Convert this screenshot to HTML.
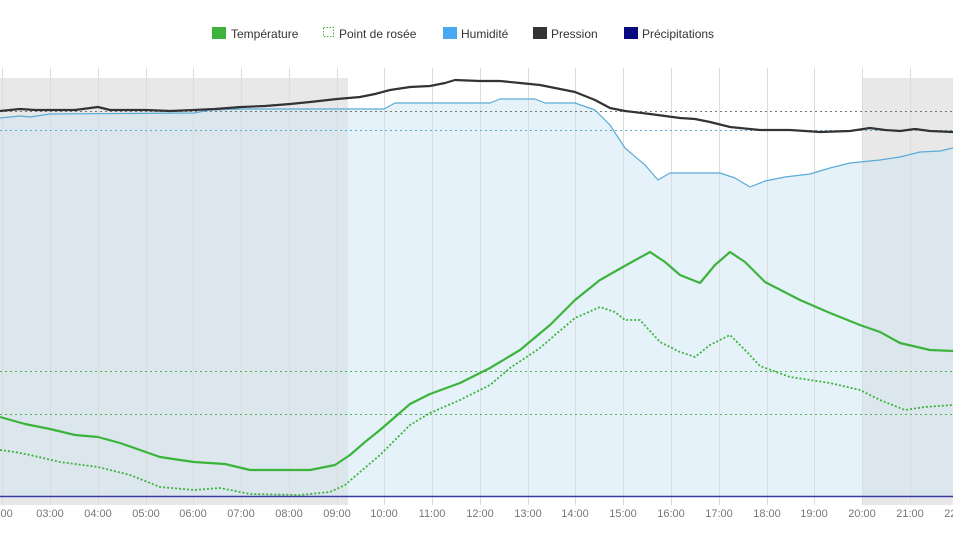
<!DOCTYPE html>
<html><head><meta charset="utf-8"><style>
html,body{margin:0;padding:0;background:#fff;width:953px;height:536px;overflow:hidden}
svg{display:block;font-family:"Liberation Sans",sans-serif}
</style></head><body>
<svg width="953" height="536" viewBox="0 0 953 536">
<rect x="0" y="78" width="348" height="427" fill="#f3f3f3"/>
<rect x="862" y="78" width="91" height="427" fill="#f3f3f3"/>
<path d="M0,118 L20,116 L30,117 L50,114 L194,113 L210,110 L241,109 L384,109 L395,103 L490,103 L500,99 L535,99 L545,103 L575,103 L595,110 L610,125 L625,148 L645,165 L658,180 L670,173 L720,173 L735,178 L750,187 L765,181 L785,177 L810,174 L830,168 L850,163 L880,160 L900,157 L920,152 L940,151 L953,148 L953,497 L0,497 Z" fill="#e5f2f9"/>
<rect x="0" y="78" width="348" height="427" fill="rgba(100,100,100,0.08)"/>
<rect x="862" y="78" width="91" height="427" fill="rgba(100,100,100,0.08)"/>
<g stroke="#dcdcdc" stroke-width="1">
<line x1="2.5" y1="68" x2="2.5" y2="505"/><line x1="50.5" y1="68" x2="50.5" y2="505"/><line x1="98.5" y1="68" x2="98.5" y2="505"/><line x1="146.5" y1="68" x2="146.5" y2="505"/><line x1="193.5" y1="68" x2="193.5" y2="505"/><line x1="241.5" y1="68" x2="241.5" y2="505"/><line x1="289.5" y1="68" x2="289.5" y2="505"/><line x1="337.5" y1="68" x2="337.5" y2="505"/><line x1="384.5" y1="68" x2="384.5" y2="505"/><line x1="432.5" y1="68" x2="432.5" y2="505"/><line x1="480.5" y1="68" x2="480.5" y2="505"/><line x1="528.5" y1="68" x2="528.5" y2="505"/><line x1="575.5" y1="68" x2="575.5" y2="505"/><line x1="623.5" y1="68" x2="623.5" y2="505"/><line x1="671.5" y1="68" x2="671.5" y2="505"/><line x1="719.5" y1="68" x2="719.5" y2="505"/><line x1="767.5" y1="68" x2="767.5" y2="505"/><line x1="814.5" y1="68" x2="814.5" y2="505"/><line x1="862.5" y1="68" x2="862.5" y2="505"/><line x1="910.5" y1="68" x2="910.5" y2="505"/>
</g>
<line x1="0" y1="111.5" x2="953" y2="111.5" stroke="#777" stroke-dasharray="2,3"/>
<line x1="0" y1="130.5" x2="953" y2="130.5" stroke="#5aabd8" stroke-dasharray="2,3"/>
<line x1="0" y1="371.5" x2="953" y2="371.5" stroke="#4cb84c" stroke-dasharray="2,3"/>
<line x1="0" y1="414.5" x2="953" y2="414.5" stroke="#4cb84c" stroke-dasharray="2,3"/>
<polyline fill="none" stroke="#5aabd8" stroke-width="1.2" stroke-linejoin="round" points="0,118 20,116 30,117 50,114 194,113 210,110 241,109 384,109 395,103 490,103 500,99 535,99 545,103 575,103 595,110 610,125 625,148 645,165 658,180 670,173 720,173 735,178 750,187 765,181 785,177 810,174 830,168 850,163 880,160 900,157 920,152 940,151 953,148"/>
<polyline fill="none" stroke="#333" stroke-width="2.2" stroke-linejoin="round" points="0,111 20,109 35,110 50,110 75,110 98,107 110,110 146,110 170,111 194,110 215,109 241,107 265,106 290,104 310,102 337,99 360,97 375,94 390,90 410,87 430,86 445,83 455,80 480,81 500,81 520,83 540,85 550,87 575,92 595,100 610,108 625,111 650,114 665,116 680,118 695,119 710,122 730,127 760,130 790,130 820,132 850,131 870,128 885,130 900,131 915,129 930,131 953,132"/>
<line x1="0" y1="496.5" x2="953" y2="496.5" stroke="#3a3aa0" stroke-width="1.5"/>
<polyline fill="none" stroke="#3cb43c" stroke-width="2.2" stroke-linejoin="round" points="0,417 25,424 50,429 75,435 98,437 120,443 140,450 160,457 180,460 194,462 225,464 250,470 310,470 335,465 350,455 365,442 380,430 395,417 410,404 430,394 460,383 490,368 520,350 550,325 575,300 600,280 630,263 650,252 665,262 680,275 700,283 715,265 730,252 745,262 765,282 800,300 830,313 860,325 880,332 900,343 930,350 953,351"/>
<polyline fill="none" stroke="#3cb43c" stroke-width="1.8" stroke-dasharray="2,2" stroke-linejoin="round" points="0,450 15,452 30,455 60,462 98,467 130,475 160,487 194,490 220,488 250,494 300,495 330,492 345,485 360,472 380,455 410,425 430,413 460,400 490,385 510,368 540,348 555,335 575,318 600,307 615,312 625,320 640,320 660,342 680,352 695,357 710,345 730,335 745,350 760,366 790,377 830,383 860,390 880,400 905,410 925,407 953,405"/>
<g font-size="11" fill="#777" text-anchor="middle">
<text x="2" y="517">2:00</text><text x="50" y="517">03:00</text><text x="98" y="517">04:00</text><text x="146" y="517">05:00</text><text x="193" y="517">06:00</text><text x="241" y="517">07:00</text><text x="289" y="517">08:00</text><text x="337" y="517">09:00</text><text x="384" y="517">10:00</text><text x="432" y="517">11:00</text><text x="480" y="517">12:00</text><text x="528" y="517">13:00</text><text x="575" y="517">14:00</text><text x="623" y="517">15:00</text><text x="671" y="517">16:00</text><text x="719" y="517">17:00</text><text x="767" y="517">18:00</text><text x="814" y="517">19:00</text><text x="862" y="517">20:00</text><text x="910" y="517">21:00</text><text x="958" y="517">22:00</text>
</g>
<g font-size="12" fill="#333">
<rect x="212" y="27" width="14" height="12" fill="#3cb43c"/><text x="231" y="38">Température</text>
<rect x="323.5" y="27.5" width="10" height="9" fill="none" stroke="#3cb43c" stroke-dasharray="1.5,1.5"/><text x="339" y="38">Point de rosée</text>
<rect x="443" y="27" width="14" height="12" fill="#4aa8f0"/><text x="461" y="38">Humidité</text>
<rect x="533" y="27" width="14" height="12" fill="#333"/><text x="551" y="38">Pression</text>
<rect x="624" y="27" width="14" height="12" fill="#0a0a80"/><text x="642" y="38">Précipitations</text>
</g>
</svg>
</body></html>
